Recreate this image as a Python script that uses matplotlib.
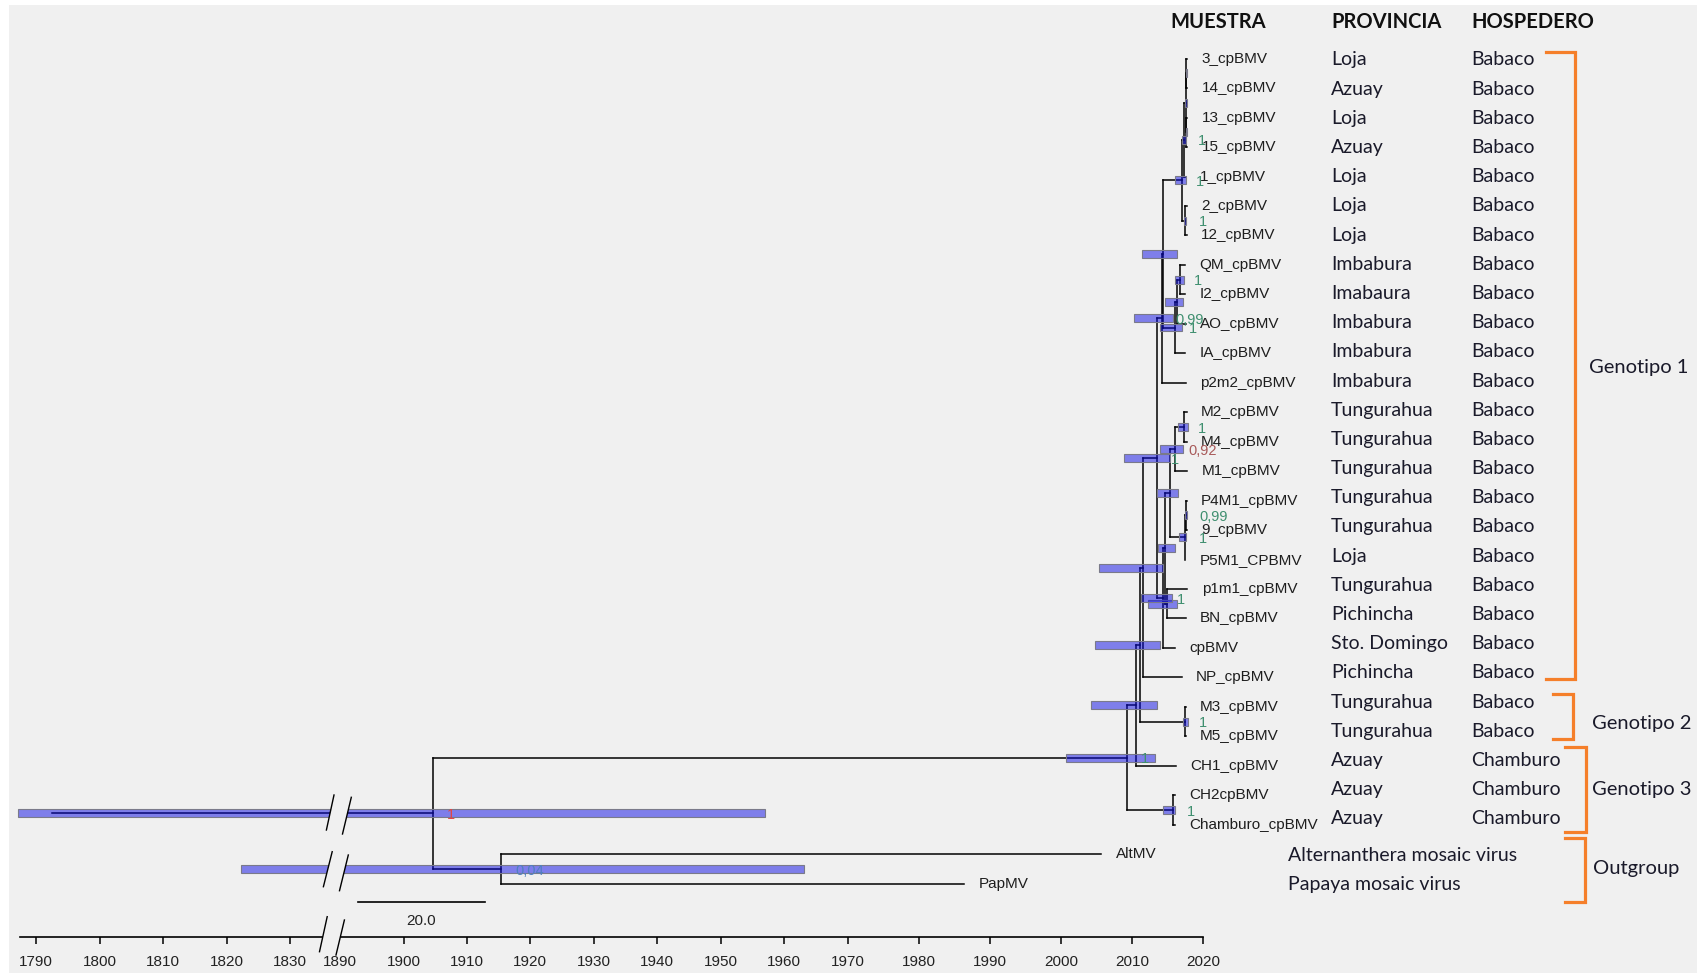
import numpy as np
import matplotlib
matplotlib.use("Agg")
import matplotlib.pyplot as plt
from matplotlib import transforms
from matplotlib.patches import Polygon, Rectangle

# ── tips (top to bottom) ─────────────────────────────────────
tip_names = ["3_cpBMV", "14_cpBMV", "13_cpBMV", "15_cpBMV", "1_cpBMV", "2_cpBMV",
             "12_cpBMV", "QM_cpBMV", "I2_cpBMV", "AO_cpBMV", "IA_cpBMV", "p2m2_cpBMV",
             "M2_cpBMV", "M4_cpBMV", "M1_cpBMV", "P4M1_cpBMV", "9_cpBMV", "P5M1_CPBMV",
             "p1m1_cpBMV", "BN_cpBMV", "cpBMV", "NP_cpBMV", "M3_cpBMV", "M5_cpBMV",
             "CH1_cpBMV", "CH2cpBMV", "Chamburo_cpBMV", "AltMV", "PapMV"]
tip_years = [2017.8, 2017.8, 2017.8, 2017.8, 2017.6, 2017.7, 2017.7, 2017.5, 2017.5,
             2017.6, 2017.5, 2017.6, 2017.7, 2017.7, 2017.8, 2017.7, 2017.7, 2017.5,
             2017.8, 2017.6, 2016.05, 2017.0, 2017.6, 2017.6, 2016.2, 2016.1, 2016.1,
             2005.7, 1986.4]

provincias = ["Loja", "Azuay", "Loja", "Azuay", "Loja", "Loja", "Loja", "Imbabura",
              "Imabaura", "Imbabura", "Imbabura", "Imbabura", "Tungurahua", "Tungurahua",
              "Tungurahua", "Tungurahua", "Tungurahua", "Loja", "Tungurahua", "Pichincha",
              "Sto. Domingo", "Pichincha", "Tungurahua", "Tungurahua", "Azuay", "Azuay", "Azuay"]
hospederos = ["Babaco"] * 24 + ["Chamburo"] * 3
outgroup_names = ["Alternanthera mosaic virus", "Papaya mosaic virus"]
group_names = ["Genotipo 1", "Genotipo 2", "Genotipo 3", "Outgroup"]

# ── internal nodes: children, age (year), 95% HPD, posterior ─
node_ids   = ["a", "b", "Y", "X", "c", "ntop", "qm", "ao", "imb", "p1", "g1a",
              "m24", "m241", "p49", "p495", "t1", "pb", "t2", "t4", "g1", "g0",
              "m35", "g00", "g000", "chc", "ir", "out", "root"]
node_left  = ["3_cpBMV", "13_cpBMV", "a", "Y", "2_cpBMV", "X", "QM_cpBMV", "qm", "ao",
              "ntop", "p1", "M2_cpBMV", "m24", "P4M1_cpBMV", "p49", "m241",
              "p1m1_cpBMV", "t1", "t2", "g1a", "g1", "M3_cpBMV", "g0", "g00",
              "CH2cpBMV", "g000", "AltMV", "ir"]
node_right = ["14_cpBMV", "15_cpBMV", "b", "1_cpBMV", "12_cpBMV", "c", "I2_cpBMV",
              "AO_cpBMV", "IA_cpBMV", "imb", "p2m2_cpBMV", "M4_cpBMV", "M1_cpBMV",
              "9_cpBMV", "P5M1_CPBMV", "p495", "BN_cpBMV", "pb", "cpBMV", "t4",
              "NP_cpBMV", "M5_cpBMV", "m35", "CH1_cpBMV", "Chamburo_cpBMV", "chc",
              "PapMV", "out"]
node_years = [2017.65, 2017.65, 2017.55, 2017.35, 2017.45, 2017.1, 2016.8, 2016.3,
              2016.05, 2014.4, 2014.2, 2017.3, 2016.05, 2017.6, 2017.4, 2015.36,
              2015.0, 2014.66, 2014.4, 2013.5, 2011.6, 2017.45, 2011.1, 2010.6,
              2015.8, 2009.35, 1915.4, 1904.7]
hpd_lo = [2017.55, 2017.55, 2017.4, 2017.1, 2017.3, 2016.05, 2016.05, 2014.65,
          2013.95, 2011.4, 2010.3, 2016.44, 2013.95, 2017.5, 2016.6, 2013.6,
          2012.2, 2013.7, 2011.3, 2008.9, 2005.4, 2017.2, 2004.8, 2004.2,
          2014.4, 2000.7, 1822.3, 1787.2]
hpd_hi = [2017.78, 2017.78, 2017.75, 2017.65, 2017.6, 2017.6, 2017.35, 2017.15,
          2017.0, 2016.3, 2015.8, 2017.93, 2017.23, 2017.75, 2017.55, 2016.44,
          2016.3, 2016.05, 2015.6, 2015.36, 2014.33, 2017.9, 2013.95, 2013.5,
          2016.05, 2013.2, 1963.1, 1957.0]
posterior = ["", "", "", "1", "1", "1", "1", "", "1", "", "0,99", "1", "0,92",
             "0,99", "1", "", "", "", "1", "1", "", "1", "", "", "1", "1", "0,04", "1"]
root_stem_start = 1792.5

tick_years = [1790, 1800, 1810, 1820, 1830, 1890, 1900, 1910, 1920, 1930, 1940,
              1950, 1960, 1970, 1980, 1990, 2000, 2010, 2020]

# broken / uneven time axis: year -> pixel
axis_years = [1700, 1790, 1830, 1836, 1890, 1900, 1970, 2020, 2200]
axis_px = [-535.5, 36, 290, 328.1, 340.1, 403.5, 847.5, 1203, 2482.8]

W, H = 1704, 976
BG = "#f0f0f0"
ORANGE = "#f57f2a"
GREEN = "#3f8f6f"
lab_col = {"root": "#e04545", "m241": "#a85a5a", "out": "#5080c0"}

fig = plt.figure(figsize=(W / 100, H / 100), dpi=100)
fig.patch.set_facecolor("white")
ax = fig.add_axes([0, 0, 1, 1])
ax.patch.set_visible(False)

fwd = lambda v: np.interp(v, axis_years, axis_px)
inv = lambda p: np.interp(p, axis_px, axis_years)
ax.set_xscale("function", functions=(fwd, inv))
ax.set_xlim(inv(0), inv(W))
ax.set_ylim((H - 58.7) / 29.46, -58.7 / 29.46)

PX = transforms.Affine2D().scale(1 / W, -1 / H).translate(0, 1) + fig.transFigure
ROW = transforms.blended_transform_factory(PX, ax.transData)

ax.add_patch(Rectangle((8.7, 5.4), 1688, 968, transform=PX, fc=BG, ec="none", zorder=0))

# ── tree geometry ────────────────────────────────────────────
ypos = {n: i for i, n in enumerate(tip_names)}
xpos = dict(zip(tip_names, tip_years))
parent = {}
for nid, l, r, yr in zip(node_ids, node_left, node_right, node_years):
    ypos[nid] = (ypos[l] + ypos[r]) / 2
    xpos[nid] = yr
    parent[l] = nid
    parent[r] = nid

lk = dict(color="black", lw=1.1, solid_capstyle="projecting", zorder=2)
for ch, par in parent.items():
    ax.plot([xpos[par], xpos[ch]], [ypos[ch], ypos[ch]], **lk)
for nid, l, r in zip(node_ids, node_left, node_right):
    ax.plot([xpos[nid], xpos[nid]], [ypos[l], ypos[r]], **lk)
ax.plot([root_stem_start, xpos["root"]], [ypos["root"]] * 2, **lk)

# HPD bars
lo = np.array(hpd_lo)
hi = np.array(hpd_hi)
ax.barh([ypos[n] for n in node_ids], hi - lo, left=lo, height=0.27,
        color=(0.05, 0.05, 0.9, 0.5), edgecolor="#7a7a8a", linewidth=0.8, zorder=3)

# tip labels
for n in tip_names:
    ax.annotate(n, xy=(xpos[n], ypos[n]), xytext=(10.3, 0), textcoords="offset points",
                ha="left", va="center", fontsize=11, family="Liberation Sans",
                color="#1e1e1e", zorder=4)

# posterior labels
for nid, p in zip(node_ids, posterior):
    if p:
        ax.annotate(p, xy=(xpos[nid], ypos[nid]), xytext=(10, -1.2),
                    textcoords="offset points", ha="left", va="center",
                    fontsize=10.5, family="Liberation Sans",
                    color=lab_col.get(nid, GREEN), zorder=4)

# ── axis with break ──────────────────────────────────────────
for s in ["top", "left", "right"]:
    ax.spines[s].set_visible(False)
ax.spines["bottom"].set_position(("data", (936.7 - 58.7) / 29.46))
ax.spines["bottom"].set_bounds(inv(19.6), 2020)
ax.spines["bottom"].set_linewidth(1.2)
ax.set_yticks([])
ax.set_xticks(tick_years)
ax.set_xticklabels([str(t) for t in tick_years], family="Liberation Sans")
ax.tick_params(axis="x", direction="out", length=5, width=1.1, pad=8,
               labelsize=11, labelcolor="#222222")
ax.xaxis.get_major_ticks()[tick_years.index(1890)].tick1line.set_visible(False)

breaks = [[(319.5, 951.7), (327.2, 916.7), (344.4, 920), (336, 955)],
          [(326.4, 830), (334, 795), (351.3, 797.3), (342.5, 834)],
          [(323.4, 886.7), (332.2, 851.7), (348.3, 855), (339.5, 890.7)]]
for q in breaks:
    ax.add_patch(Polygon(q, closed=True, transform=PX, fc=BG, ec="none", zorder=6))
    ax.plot([q[0][0], q[1][0]], [q[0][1], q[1][1]], transform=PX, color="black", lw=1, zorder=7)
    ax.plot([q[3][0], q[2][0]], [q[3][1], q[2][1]], transform=PX, color="black", lw=1, zorder=7)

# scale bar
sb_y = (902.3 - 58.7) / 29.46
ax.plot([1892.8, 1912.8], [sb_y, sb_y], color="black", lw=1.2)
ax.text(1902.8, (921 - 58.7) / 29.46, "20.0", ha="center", va="center",
        fontsize=11, family="Liberation Sans", color="#222222")

# ── table on the right ───────────────────────────────────────
hk = dict(fontsize=14.5, fontweight="bold", family="Lato", color="#111111",
          va="center", ha="left", transform=PX)
ax.text(1170, 21.7, "MUESTRA", **hk)
ax.text(1331, 21.7, "PROVINCIA", **hk)
ax.text(1471, 21.7, "HOSPEDERO", **hk)

rk = dict(fontsize=14, family="Lato", color="#1a1a2a", va="center", ha="left",
          transform=ROW)
for i, (pv, hs) in enumerate(zip(provincias, hospederos)):
    ry = i + 0.04 - 0.009 * i
    ax.text(1331, ry, pv, **rk)
    ax.text(1471, ry, hs, **rk)
for k, nm in enumerate(outgroup_names):
    ax.text(1288, len(provincias) + k + 0.04, nm, **rk)

# brackets + group labels
brackets = [(1546, 1575, 51.7, 679.3), (1553, 1573.3, 694, 739.3),
            (1565, 1586, 747.3, 831.7), (1565, 1585, 838.3, 901.7)]
label_xy = [(1589, 367), (1591.7, 723.3), (1591.7, 789.3), (1592.7, 868.3)]
for (x0, x1, y0, y1), nm, (lx, ly) in zip(brackets, group_names, label_xy):
    ax.plot([x0, x1, x1, x0], [y0, y0, y1, y1], transform=PX, color=ORANGE,
            lw=2.3, solid_joinstyle="miter", zorder=4)
    ax.text(lx, ly, nm, fontsize=14.5, family="Lato", color="#1a1a2a",
            va="center", ha="left", transform=PX)

plt.savefig("out.png", dpi=100)
